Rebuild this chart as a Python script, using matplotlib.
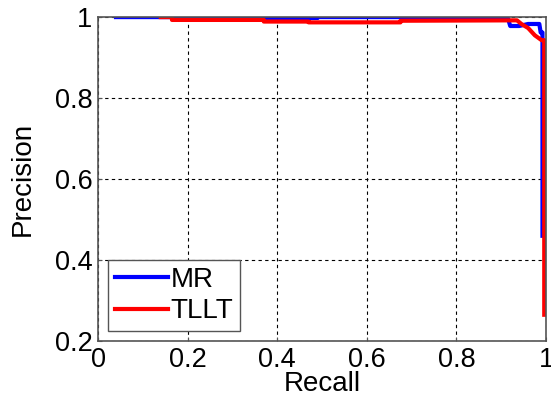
import matplotlib
matplotlib.use("Agg")
import matplotlib.pyplot as plt

# precision-recall curves
mr_recall = [0.04, 0.24, 0.24, 0.49, 0.49, 0.79, 0.79, 0.915, 0.92, 0.94,
             0.96, 0.985, 0.988, 0.992, 0.992]
mr_precision = [1.0, 1.0, 0.998, 0.998, 1.0, 1.0, 0.997, 0.997, 0.978, 0.978,
                0.983, 0.983, 0.962, 0.962, 0.46]

tllt_recall = [0.14, 0.165, 0.165, 0.37, 0.37, 0.47, 0.47, 0.675, 0.675, 0.935,
               0.945, 0.96, 0.975, 0.99, 0.996, 0.996]
tllt_precision = [1.0, 1.0, 0.993, 0.993, 0.989, 0.989, 0.987, 0.987, 0.991, 0.992,
                  0.983, 0.973, 0.955, 0.943, 0.943, 0.265]

x_ticks = [0, 0.2, 0.4, 0.6, 0.8, 1]
x_labels = ["0", "0.2", "0.4", "0.6", "0.8", "1"]
y_ticks = [0.2, 0.4, 0.6, 0.8, 1]
y_labels = ["0.2", "0.4", "0.6", "0.8", "1"]

plt.rcParams['font.family'] = ['Liberation Sans', 'DejaVu Sans']

fig = plt.figure(figsize=(5.51, 4.07), dpi=100)
ax = fig.add_axes([0.178, 0.162, 0.813, 0.796])

ax.plot(mr_recall, mr_precision, color='#0000ff', lw=3, label='MR')
ax.plot(tllt_recall, tllt_precision, color='#ff0000', lw=3, label='TLLT')

ax.set_xlim(0, 1)
ax.set_ylim(0.2, 1)
ax.set_xticks(x_ticks)
ax.set_xticklabels(x_labels)
ax.set_yticks(y_ticks)
ax.set_yticklabels(y_labels)
ax.tick_params(direction='in', length=3, labelsize=19.5, pad=4, color='#555555')

ax.grid(True, color='black', linestyle=(0, (3, 3)), linewidth=0.8)
for s in ax.spines.values():
    s.set_color('#555555')
    s.set_linewidth(1.2)

ax.set_xlabel('Recall', fontsize=20, labelpad=-1)
ax.set_ylabel('Precision', fontsize=20, labelpad=14)

leg = ax.legend(loc='lower left', fontsize=20, fancybox=False, framealpha=1,
                edgecolor='#555555', handlelength=1.9, handletextpad=0.1,
                borderpad=0.25, labelspacing=0.2, borderaxespad=0.35)
leg.get_frame().set_linewidth(1.0)

fig.savefig('out.png', dpi=100)
